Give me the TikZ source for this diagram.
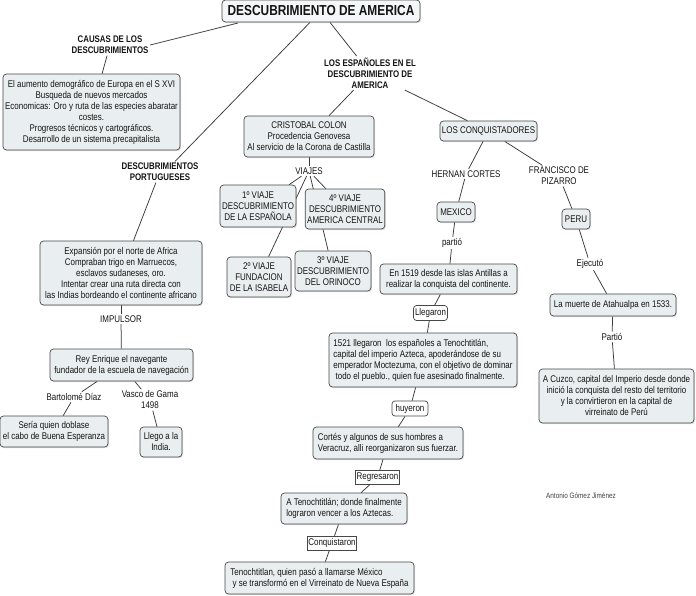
\documentclass[tikz,border=0pt]{standalone}
\usepackage{fontspec}
\setmainfont[FakeStretch=0.82]{Liberation Sans}
\usetikzlibrary{shadows}
\definecolor{boxfill}{HTML}{E9EFF0}
\definecolor{linecol}{HTML}{3A3A3A}
\definecolor{txt}{HTML}{141414}
\pgfdeclarelayer{bgfill}
\pgfdeclarelayer{background}
\pgfsetlayers{bgfill,background,main}
\tikzset{
  base/.style={font=\fontsize{9.7}{11}\selectfont, text=txt, align=center, inner sep=2pt},
  cbox/.style={base, rounded corners=3.5pt, draw=black!72, fill=boxfill, line width=0.7pt,
    drop shadow={shadow xshift=1pt, shadow yshift=-1.2pt, opacity=0.25}},
  lbl/.style={base, inner sep=1.5pt},
  blbl/.style={base, font=\fontsize{9.6}{11}\selectfont\bfseries, inner sep=1.5pt},
  rlbl/.style={base, rounded corners=3pt, draw=black!72, fill=white, line width=0.7pt, inner sep=1.5pt},
  slbl/.style={base, draw=black!72, fill=white, line width=0.6pt, inner sep=1pt},
  conn/.style={draw=linecol, line width=0.75pt}
}
\begin{document}
\begin{tikzpicture}[x=1pt,y=-1pt]
\begin{pgfonlayer}{bgfill}
\fill[white] (0,0) rectangle (696,595);
\end{pgfonlayer}
\useasboundingbox (0,0) rectangle (696,595);
% title
\node[cbox, font=\fontsize{14.5}{16}\selectfont\bfseries, minimum width=198pt, minimum height=22pt, fill=boxfill!50!white] (title) at (321,11) {DESCUBRIMIENTO DE AMERICA};
% left side
\node[blbl] (causas) at (110,45) {CAUSAS DE LOS\\DESCUBRIMIENTOS};
\node[cbox, minimum width=177pt, minimum height=76pt] (causasbox) at (91.5,112) {El aumento demográfico de Europa en el S XVI\\Busqueda de nuevos mercados\\Economicas: Oro y ruta de las especies abaratar\\costes.\\Progresos técnicos y cartográficos.\\Desarrollo de un sistema precapitalista};
\node[blbl] (port) at (160,172) {DESCUBRIMIENTOS\\PORTUGUESES};
\node[cbox, minimum width=162pt, minimum height=64pt] (portbox) at (121,273) {Expansión por el norte de Africa\\Compraban trigo en Marruecos,\\esclavos sudaneses, oro.\\Intentar crear una ruta directa con\\las Indias bordeando el continente africano};
\node[lbl] (impulsor) at (121,319) {IMPULSOR};
\node[cbox, minimum width=143pt, minimum height=32pt] (rey) at (121.5,365) {Rey Enrique el navegante\\fundador de la escuela de navegación};
\node[lbl] (bart) at (74,397) {Bartolomé Díaz};
\node[lbl] (vasco) at (150,400) {Vasco de Gama\\1498};
\node[cbox, minimum width=108pt, minimum height=31pt] (seria) at (54,431.5) {Sería quien doblase\\el cabo de Buena Esperanza};
\node[cbox, minimum width=42pt, minimum height=30pt] (llego) at (161,442) {Llego a la\\India.};
% middle
\node[blbl] (espan) at (370,73) {LOS ESPAÑOLES EN EL\\DESCUBRIMIENTO DE\\AMERICA};
\node[cbox, minimum width=130pt, minimum height=41pt] (colon) at (309,136.5) {CRISTOBAL COLON\\Procedencia Genovesa\\Al servicio de la Corona de Castilla};
\node[lbl] (viajes) at (309,171) {VIAJES};
\node[cbox, minimum width=68pt, minimum height=42pt] (v1) at (258,206) {1º VIAJE\\DESCUBRIMIENTO\\DE LA ESPAÑOLA};
\node[cbox, minimum width=76pt, minimum height=40pt] (v4) at (345,209) {4º VIAJE\\DESCUBRIMIENTO\\AMERICA CENTRAL};
\node[cbox, minimum width=64pt, minimum height=40pt] (v2) at (259,277) {2º VIAJE\\FUNDACION\\DE LA ISABELA};
\node[cbox, minimum width=74pt, minimum height=40pt] (v3) at (333,271) {3º VIAJE\\DESCUBRIMIENTO\\DEL ORINOCO};
% conquistadores
\node[cbox, minimum width=95pt, minimum height=20pt] (conq) at (488.5,131) {LOS CONQUISTADORES};
\node[lbl] (cortes) at (466,174) {HERNAN CORTES};
\node[lbl] (pizarro) at (559,176) {FRANCISCO DE\\PIZARRO};
\node[cbox, minimum width=38pt, minimum height=20pt] (mexico) at (456,212) {MEXICO};
\node[lbl] (partio) at (452,243) {partió};
\node[cbox, minimum width=28pt, minimum height=20pt] (peru) at (576,219) {PERU};
\node[lbl] (ejecuto) at (590,264) {Ejecutó};
\node[cbox, minimum width=137pt, minimum height=30pt] (e1519) at (448.5,279) {En 1519 desde las islas Antillas a\\realizar la conquista del continente.};
\node[rlbl, minimum width=33pt, minimum height=15pt] (llegaron) at (430.5,313) {Llegaron};
\node[cbox, minimum width=126pt, minimum height=22pt] (muerte) at (613,305) {La muerte de Atahualpa en 1533.};
\node[lbl] (partio2) at (612,337) {Partió};
\node[cbox, minimum width=155pt, minimum height=54pt] (cuzco) at (616.5,396) {A Cuzco, capital del Imperio desde donde\\inició la conquista del resto del territorio\\y la convirtieron en la capital de\\virreinato de Perú};
\node[cbox, minimum width=188pt, minimum height=54pt, align=left] (e1521) at (423,360) {1521 llegaron\ \ los españoles a Tenochtitlán,\\capital del imperio Azteca, apoderándose de su\\emperador Moctezuma, con el objetivo de dominar\\\ todo el pueblo., quien fue asesinado finalmente.};
\node[rlbl, minimum width=36pt, minimum height=15pt] (huyeron) at (410,408.5) {huyeron};
\node[cbox, minimum width=150pt, minimum height=32pt, align=left] (cortesbox) at (388,443) {Cortés y algunos de sus hombres a\\Veracruz, alli reorganizaron sus fuerzar.};
\node[slbl, minimum width=41pt, minimum height=14pt] (regres) at (377.5,477.5) {Regresaron};
\node[cbox, minimum width=126pt, minimum height=31pt, align=left] (tenoch1) at (344,508.5) {A Tenochtitlán; donde finalmente\\lograron vencer a los Aztecas.};
\node[slbl, minimum width=46pt, minimum height=14pt] (conquist) at (332,543) {Conquistaron};
\node[cbox, minimum width=189pt, minimum height=32pt, align=left] (tenoch2) at (319.5,578) {Tenochtitlan, quien pasó a llamarse México\\\ y se transformó en el Virreinato de Nueva España};
\node[lbl, font=\fontsize{7.8}{9}\selectfont, text=black!75] (autor) at (581,496) {Antonio Gómez Jiménez};
% connectors
\coordinate (t1) at (238,23);
\begin{pgfonlayer}{background}
\draw[conn] (t1) -- (causas.east);
\draw[conn] (causas) -- (causasbox);
\draw[conn] ([xshift=-11pt]title.south) -- ([xshift=15pt]port.north);
\draw[conn] (port) -- (portbox);
\draw[conn] (title) -- (espan);
\draw[conn] (espan) -- (colon);
\draw[conn] (espan) -- (conq);
\draw[conn] (colon) -- (viajes);
\draw[conn] (viajes) -- (v1);
\draw[conn] (viajes) -- (v2);
\draw[conn] (viajes) -- (v3);
\draw[conn] (viajes) -- (v4);
\draw[conn] (portbox) -- (impulsor);
\draw[conn] (impulsor) -- (rey);
\draw[conn] (rey) -- (bart);
\draw[conn] (bart) -- (seria);
\draw[conn] (rey) -- (vasco);
\draw[conn] (vasco) -- (llego);
\draw[conn] (conq) -- (cortes);
\draw[conn] (conq) -- (pizarro);
\draw[conn] (cortes) -- (mexico);
\draw[conn] (mexico) -- (partio);
\draw[conn] (partio) -- (e1519);
\draw[conn] (pizarro) -- (peru);
\draw[conn] (peru) -- (ejecuto);
\draw[conn] (ejecuto) -- (muerte);
\draw[conn] (muerte) -- (partio2);
\draw[conn] (partio2) -- (cuzco);
\draw[conn] (e1519) -- (llegaron);
\draw[conn] (llegaron) -- (e1521);
\draw[conn] (e1521) -- (huyeron);
\draw[conn] (huyeron) -- (cortesbox);
\draw[conn] (cortesbox) -- (regres);
\draw[conn] (regres) -- (tenoch1);
\draw[conn] (tenoch1) -- (conquist);
\draw[conn] (conquist) -- (tenoch2);
\end{pgfonlayer}
\end{tikzpicture}
\end{document}
